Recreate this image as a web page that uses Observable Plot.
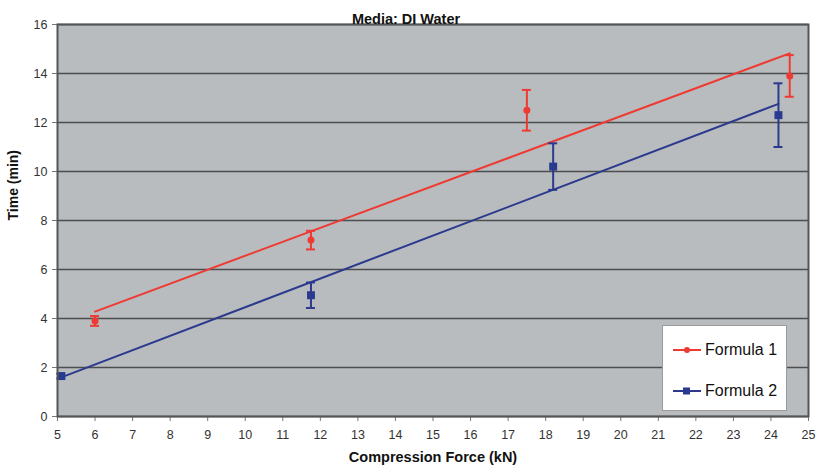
<!DOCTYPE html>
<html>
<head>
<meta charset="utf-8">
<script src="https://cdn.jsdelivr.net/npm/d3@7"></script>
<script src="https://cdn.jsdelivr.net/npm/@observablehq/plot@0.6"></script>
<style>
  html, body { margin: 0; padding: 0; background: #fff; }
  #wrap { position: relative; width: 819px; height: 473px; font-family: "Liberation Sans", Arial, sans-serif; }
  #legend { position: absolute; left: 662px; top: 325px; width: 125px; height: 86px; background: #fff; border: 1px solid #9a9a9a; box-sizing: border-box; }
  .item { position: absolute; left: 9px; display: flex; align-items: center; font-size: 16px; color: #111; }
  .item svg { margin-right: 3px; }
</style>
</head>
<body>
<div id="wrap"></div>
<script>
const series = ["Formula 1", "Formula 2"];
const colors = ["#ee3a32", "#2b3a8e"];
const f1Force = [6.0, 11.75, 17.5, 24.5];
const f1Time  = [3.9, 7.2, 12.5, 13.9];
const f1Err   = [0.2, 0.38, 0.83, 0.85];
const f2Force = [5.1, 11.75, 18.2, 24.2];
const f2Time  = [1.65, 4.95, 10.2, 12.3];
const f2Err   = [0.1, 0.52, 0.95, 1.3];
const xTicks = d3.range(5, 26, 1);
const yTicks = d3.range(0, 17, 2);
const titleText = "Media: DI Water";
const xLabel = "Compression Force (kN)";
const yLabel = "Time (min)";

const rows = [];
f1Force.forEach((x, i) => rows.push({series: series[0], x, y: f1Time[i], e: f1Err[i]}));
f2Force.forEach((x, i) => rows.push({series: series[1], x, y: f2Time[i], e: f2Err[i]}));
const f1 = rows.filter(d => d.series === series[0]);
const f2 = rows.filter(d => d.series === series[1]);

const chart = Plot.plot({
  width: 819,
  height: 473,
  marginLeft: 57,
  marginRight: 11,
  marginTop: 24,
  marginBottom: 57,
  style: {fontFamily: "'Liberation Sans', Arial, sans-serif", background: "#fff"},
  x: {domain: [5, 25]},
  y: {domain: [0, 16]},
  color: {domain: series, range: colors},
  marks: [
    Plot.frame({fill: "#b9bcbf"}),
    Plot.ruleY(yTicks, {stroke: "#4d4d4d", strokeWidth: 1.6}),
    Plot.axisX({ticks: xTicks, tickSize: 5, tickPadding: 9, fontSize: 12.5, fill: "#333", stroke: "#777", label: null}),
    Plot.axisY({ticks: yTicks, tickSize: 5, tickPadding: 5, fontSize: 12.5, fill: "#333", stroke: "#777", label: null}),
    Plot.linearRegressionY(f1, {x: "x", y: "y", stroke: colors[0], strokeWidth: 2, ci: 0}),
    Plot.linearRegressionY(f2, {x: "x", y: "y", stroke: colors[1], strokeWidth: 2, ci: 0}),
    Plot.ruleX(rows, {x: "x", y1: d => d.y - d.e, y2: d => d.y + d.e, stroke: "series", strokeWidth: 2}),
    Plot.ruleY(rows, {y: d => d.y - d.e, x1: "x", x2: "x", insetLeft: -4.5, insetRight: -4.5, stroke: "series", strokeWidth: 2}),
    Plot.ruleY(rows, {y: d => d.y + d.e, x1: "x", x2: "x", insetLeft: -4.5, insetRight: -4.5, stroke: "series", strokeWidth: 2}),
    Plot.dot(f1, {x: "x", y: "y", r: 3.5, fill: colors[0], symbol: "circle"}),
    Plot.dot(f2, {x: "x", y: "y", r: 4.5, fill: colors[1], symbol: "square"}),
    Plot.frame({stroke: "#555", strokeWidth: 2}),
    Plot.text([titleText], {frameAnchor: "top", dy: -11, text: d => d, fontWeight: "bold", fontSize: 14.5, fill: "#111", dx: -27}),
    Plot.text([xLabel], {frameAnchor: "bottom", dy: 45, text: d => d, fontWeight: "bold", fontSize: 14.5, fill: "#111", dx: 0}),
    Plot.text([yLabel], {frameAnchor: "left", dx: -44, rotate: -90, text: d => d, fontWeight: "bold", fontSize: 14, fill: "#111"})
  ]
});
const wrap = document.getElementById("wrap");
wrap.appendChild(chart);

const legend = document.createElement("div");
legend.id = "legend";
series.forEach((s, i) => {
  const item = document.createElement("div");
  item.className = "item";
  item.style.top = (i === 0 ? 15 : 56) + "px";
  const marker = i === 0
    ? `<circle cx="15" cy="6" r="3" fill="${colors[i]}"/>`
    : `<rect x="11" y="2.5" width="7" height="7" fill="${colors[i]}"/>`;
  item.innerHTML = `<svg width="30" height="12"><line x1="1" y1="6" x2="29" y2="6" stroke="${colors[i]}" stroke-width="2"/>${marker}</svg><span>${s}</span>`;
  legend.appendChild(item);
});
wrap.appendChild(legend);
</script>
</body>
</html>
